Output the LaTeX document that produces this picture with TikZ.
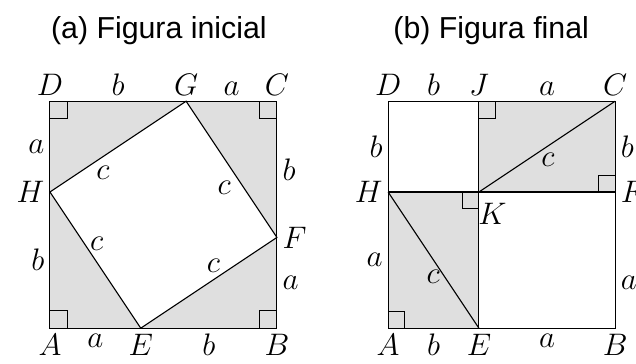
\documentclass[tikz,border=0pt]{standalone}
\usepackage{fix-cm}
\usepackage{fontspec}
\setsansfont{Liberation Sans}
\usetikzlibrary{positioning}

\begin{document}
\begin{tikzpicture}[
    lbl/.style={font=\fontsize{19.5}{24}\selectfont},
    ttl/.style={font=\sffamily\fontsize{19}{23}\selectfont, anchor=base},
    lado/.style={line width=0.7pt},
    ra/.style={line width=0.6pt},
    sombra/.style={fill=gray!25},
  ]
  \useasboundingbox (0,0) rectangle (14.01,8);

  % (a) figura inicial
  \node[ttl] (ta) at (3.5,7.15) {(a) Figura inicial};
  \begin{scope}[shift={(1.1,0.77)}]
    \coordinate (iA) at (0,0); \coordinate (iB) at (5,0);
    \coordinate (iC) at (5,5); \coordinate (iD) at (0,5);
    \coordinate (iE) at (2,0); \coordinate (iF) at (5,2);
    \coordinate (iG) at (3,5); \coordinate (iH) at (0,3);
    \fill[sombra] (iA) rectangle (iC);
    \fill[white] (iE) -- (iF) -- (iG) -- (iH) -- cycle;
    \draw[ra] (iA) rectangle ++(0.38,0.38);
    \draw[ra] (iB) rectangle ++(-0.38,0.38);
    \draw[ra] (iC) rectangle ++(-0.38,-0.38);
    \draw[ra] (iD) rectangle ++(0.38,-0.38);
    \draw[lado] (iA) rectangle (iC);
    \draw[lado] (iE) -- (iF) -- (iG) -- (iH) -- cycle;
    \node[lbl, above] (iDl) at (iD) {$D$};
    \node[lbl, above] (iDG) at (1.5,5) {$b$};
    \node[lbl, above] (iGl) at (iG) {$G$};
    \node[lbl, above] (iGC) at (4,5) {$a$};
    \node[lbl, above] (iCl) at (iC) {$C$};
    \node[lbl, below] (iAl) at (iA) {$A$};
    \node[lbl, below] (iAE) at (1,0) {$a$};
    \node[lbl, below] (iEl) at (iE) {$E$};
    \node[lbl, below] (iEB) at (3.5,0) {$b$};
    \node[lbl, below] (iBl) at (iB) {$B$};
    \node[lbl, left] (iDH) at (0,4) {$a$};
    \node[lbl, left] (iHl) at (iH) {$H$};
    \node[lbl, left] (iHA) at (0,1.5) {$b$};
    \node[lbl, right] (iCF) at (5,3.5) {$b$};
    \node[lbl, right] (iFl) at (iF) {$F$};
    \node[lbl, right] (iFB) at (5,1) {$a$};
    \node[lbl] (iHG) at (1.17,3.42) {$c$};
    \node[lbl] (iGF) at (3.84,3.09) {$c$};
    \node[lbl] (iHE) at (1.03,1.86) {$c$};
    \node[lbl] (iEF) at (3.60,1.37) {$c$};
  \end{scope}

  % (b) figura final
  \node[ttl] (tb) at (10.82,7.15) {(b) Figura final};
  \begin{scope}[shift={(8.55,0.77)}]
    \coordinate (fA) at (0,0); \coordinate (fB) at (5,0);
    \coordinate (fC) at (5,5); \coordinate (fD) at (0,5);
    \coordinate (fE) at (2,0); \coordinate (fF) at (5,3);
    \coordinate (fJ) at (2,5); \coordinate (fH) at (0,3);
    \coordinate (fK) at (2,3);
    \fill[sombra] (fA) rectangle (fK);
    \fill[sombra] (fK) rectangle (fC);
    \draw[ra] (fA) rectangle ++(0.37,0.37);
    \draw[ra] (fJ) rectangle ++(0.37,-0.37);
    \draw[ra] (fF) rectangle ++(-0.37,0.37);
    \draw[ra] (fK) rectangle ++(-0.37,-0.37);
    \draw[lado] (fA) rectangle (fC);
    \draw[lado] (fJ) -- (fE);
    \draw[lado] (fH) -- (fF);
    \draw[lado] (fK) -- (fC);
    \draw[lado] (fH) -- (fE);
    \node[lbl, above] (fDl) at (fD) {$D$};
    \node[lbl, above] (fDJ) at (1,5) {$b$};
    \node[lbl, above] (fJl) at (fJ) {$J$};
    \node[lbl, above] (fJC) at (3.5,5) {$a$};
    \node[lbl, above] (fCl) at (fC) {$C$};
    \node[lbl, below] (fAl) at (fA) {$A$};
    \node[lbl, below] (fAE) at (1,0) {$b$};
    \node[lbl, below] (fEl) at (fE) {$E$};
    \node[lbl, below] (fEB) at (3.5,0) {$a$};
    \node[lbl, below] (fBl) at (fB) {$B$};
    \node[lbl, left] (fDH) at (0,4) {$b$};
    \node[lbl, left] (fHl) at (fH) {$H$};
    \node[lbl, left] (fHA) at (0,1.5) {$a$};
    \node[lbl, right] (fCF) at (5,4) {$b$};
    \node[lbl, right] (fFl) at (fF) {$F$};
    \node[lbl, right] (fFB) at (5,1) {$a$};
    \node[lbl] (fKl) at (2.3,2.51) {$K$};
    \node[lbl] (fKC) at (3.52,3.72) {$c$};
    \node[lbl] (fHE) at (0.99,1.13) {$c$};
  \end{scope}
\end{tikzpicture}
\end{document}
